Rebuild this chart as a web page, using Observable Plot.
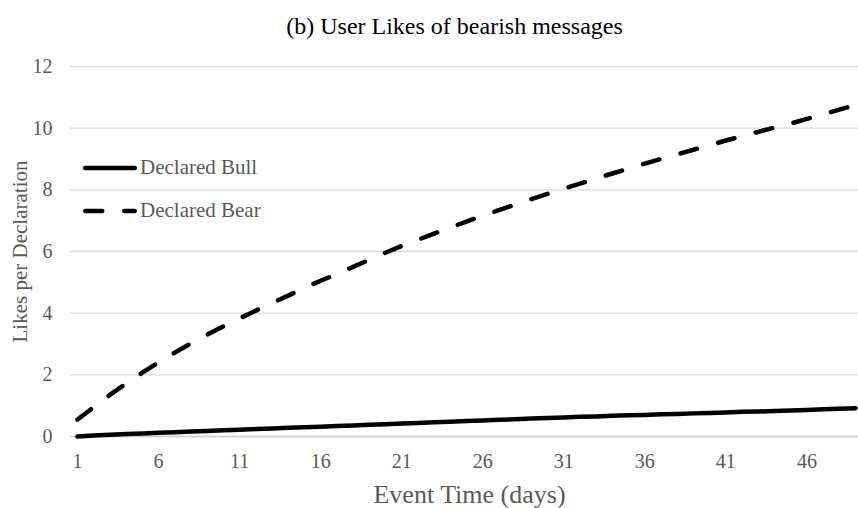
<!DOCTYPE html>
<html><head><meta charset="utf-8">
<script src="https://cdn.jsdelivr.net/npm/d3@7"></script>
<script src="https://cdn.jsdelivr.net/npm/@observablehq/plot@0.6"></script>
<style>
body{margin:0;background:#fff;font-family:"Times New Roman","Liberation Serif",Times,"DejaVu Serif",serif;}
#wrap{position:relative;width:858px;height:508px;}
#chart svg, #chart svg text{font-family:"Times New Roman","Liberation Serif",Times,"DejaVu Serif",serif !important;}
#legend{position:absolute;left:80px;top:146px;font-size:21px;color:#595959;}
.li{display:flex;align-items:center;height:43px;}
.li span{margin-left:2px;}
</style></head><body>
<div id="wrap"><div id="chart"></div>
<div id="legend"></div></div>
<script>
const days = d3.range(1, 50);
const bear = [0.55,0.95,1.35,1.72,2.07,2.4,2.72,3.02,3.3,3.57,3.83,4.08,4.33,4.57,4.82,5.05,5.27,5.5,5.73,5.96,6.18,6.38,6.58,6.78,6.97,7.16,7.34,7.52,7.7,7.87,8.04,8.2,8.37,8.53,8.69,8.85,9.0,9.15,9.3,9.45,9.6,9.74,9.88,10.02,10.15,10.3,10.45,10.6,10.75];
const bull = [0,0.03,0.06,0.08,0.1,0.12,0.14,0.16,0.18,0.2,0.22,0.24,0.26,0.28,0.3,0.32,0.34,0.36,0.38,0.4,0.42,0.44,0.46,0.48,0.5,0.52,0.54,0.56,0.58,0.6,0.62,0.64,0.65,0.67,0.69,0.7,0.72,0.73,0.75,0.76,0.78,0.8,0.81,0.83,0.84,0.86,0.88,0.9,0.92];
const seriesNames = ["Declared Bull", "Declared Bear"];
const xTicks = [1,6,11,16,21,26,31,36,41,46];
const yTicks = [0,2,4,6,8,10,12];
const title = "(b) User Likes of bearish messages";
const xLabel = "Event Time (days)";
const yLabel = "Likes per Declaration";

const data = [
  ...days.map((d,i)=>({day:d, v:bull[i], s:seriesNames[0]})),
  ...days.map((d,i)=>({day:d, v:bear[i], s:seriesNames[1]}))
];
const dash = {"Declared Bull": null, "Declared Bear": "17,22"};
const FF = "Times New Roman, Liberation Serif, serif";

const chart = Plot.plot({
  width: 858, height: 508,
  marginLeft: 70, marginRight: 0, marginTop: 66, marginBottom: 72,
  style: {fontFamily: FF, fontSize: "20px", color: "#595959", background: "#fff", overflow: "visible"},
  x: {domain: [1, 49], insetLeft: 7, insetRight: 3},
  y: {domain: [0, 12]},
  marks: [
    Plot.gridY(yTicks, {stroke: "#d9d9d9", strokeOpacity: 1, strokeWidth: 1.3}),
    Plot.axisY(yTicks, {tickSize: 0, tickPadding: 18, label: null, fontSize: 20, fontFamily: FF, fill: "#595959"}),
    Plot.axisX(xTicks, {tickSize: 0, tickPadding: 17, label: null, fontSize: 20, fontFamily: FF, fill: "#595959"}),
    Plot.ruleY([0], {stroke: "#d0d0d0", strokeWidth: 1.5}),
    ...seriesNames.map(s => Plot.line(data.filter(d=>d.s===s), {x: "day", y: "v", stroke: "#000", strokeWidth: 4.5, strokeDasharray: dash[s], strokeLinecap: "round", strokeLinejoin: "round"})),
    Plot.text([title], {frameAnchor: "top", dx: -10, dy: -33, lineAnchor: "bottom", fontSize: 24, fontFamily: FF, fill: "#000"}),
    Plot.text([xLabel], {frameAnchor: "bottom", dx: 5, dy: 66, lineAnchor: "bottom", fontSize: 26, fontFamily: FF, fill: "#595959"}),
    Plot.text([yLabel], {frameAnchor: "left", textAnchor: "middle", dx: -44, rotate: -90, lineAnchor: "bottom", fontSize: 21, fontFamily: FF, fill: "#595959"})
  ]
});
document.getElementById("chart").appendChild(chart);

const leg = document.getElementById("legend");
seriesNames.forEach(s => {
  const row = document.createElement("div"); row.className = "li";
  row.innerHTML = `<svg width="58" height="10"><line x1="5.25" y1="5" x2="54.75" y2="5" stroke="#000" stroke-width="4.5" stroke-linecap="round" ${dash[s] ? 'stroke-dasharray="17,22"' : ''}/></svg><span>${s}</span>`;
  leg.appendChild(row);
});
</script></body></html>
